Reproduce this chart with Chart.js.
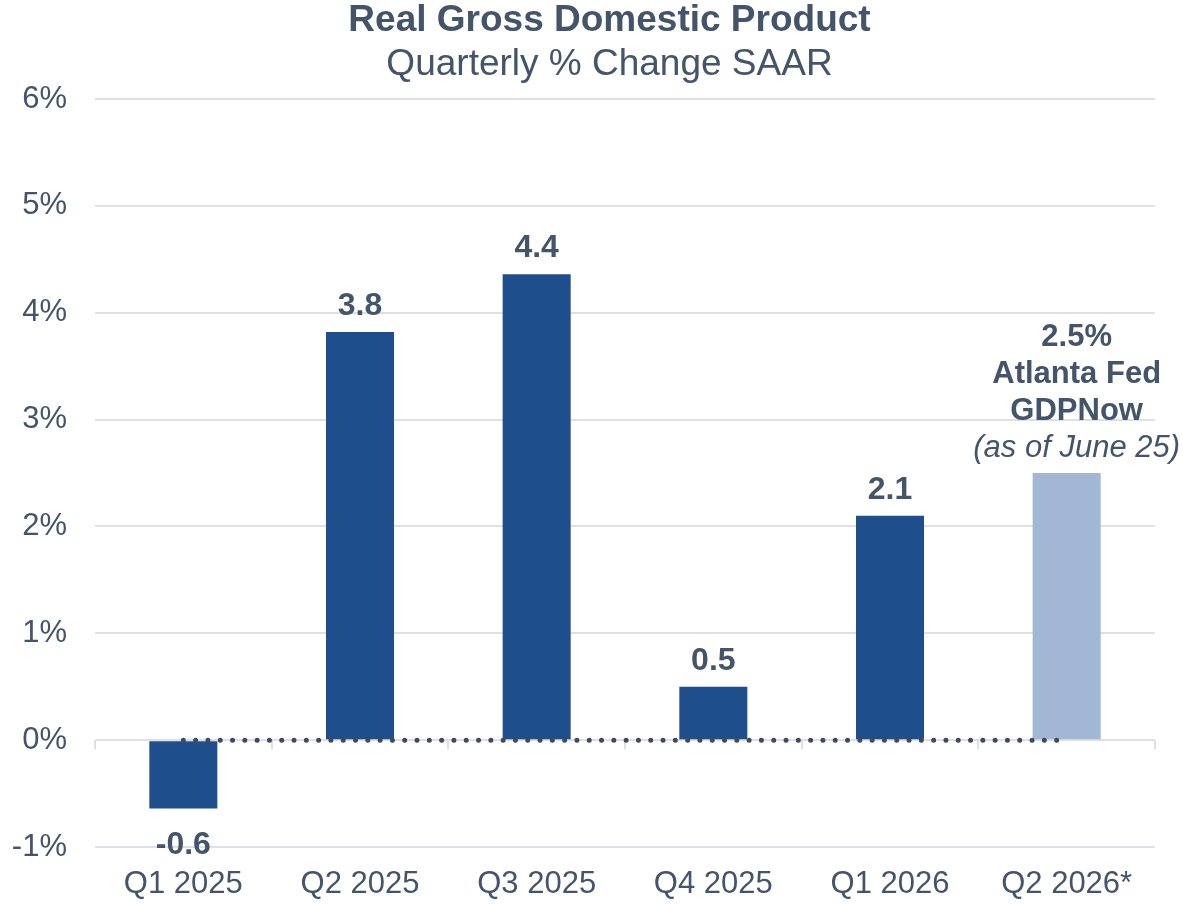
<!DOCTYPE html>
<html>
<head>
<meta charset="utf-8">
<script src="https://cdn.jsdelivr.net/npm/chart.js@4.4.1/dist/chart.umd.min.js"></script>
<style>
  html, body { margin: 0; padding: 0; background: #fff; }
  #wrap { width: 1183px; height: 904px; }
</style>
</head>
<body>
<div id="wrap"><canvas id="chart"></canvas></div>
<script>
// data
const quarters = ['Q1 2025', 'Q2 2025', 'Q3 2025', 'Q4 2025', 'Q1 2026', 'Q2 2026*'];
const gdpChange = [-0.64, 3.82, 4.36, 0.5, 2.1, 2.5];
const zeroLine = [0, 0, 0, 0, 0, 0];
const nowcastNote = ['2.5%', 'Atlanta Fed', 'GDPNow', '(as of June 25)'];
const yTicks = [-1, 0, 1, 2, 3, 4, 5, 6];

const textColor = '#44546A';
const gridColor = '#DDE1E7';
const barColors = ['#1F4E8C', '#1F4E8C', '#1F4E8C', '#1F4E8C', '#1F4E8C', '#A2B6D5'];
const font = 'Liberation Sans, Arial, sans-serif';

// titles sit a bit right of the canvas centre in the original
const titleShift = {
  id: 'titleShift',
  afterLayout(chart) {
    chart.boxes.forEach(b => {
      if (b.position === 'top' && b.options && 'text' in b.options) b.left += 54;
    });
  }
};

// small tick marks hanging below the 0% line, between categories
const zeroAxis = {
  id: 'zeroAxis',
  beforeDatasetsDraw(chart) {
    const { ctx, scales: { x, y } } = chart;
    const y0 = y.getPixelForValue(0);
    const step = x.getPixelForValue(1) - x.getPixelForValue(0);
    ctx.save();
    ctx.strokeStyle = gridColor;
    ctx.lineWidth = 2;
    ctx.beginPath();
    for (let i = 0; i <= quarters.length; i++) {
      const px = Math.round(x.getPixelForValue(i) - step / 2);
      ctx.moveTo(px, y0);
      ctx.lineTo(px, y0 + 9);
    }
    ctx.stroke();
    ctx.restore();
  }
};

const barLabels = {
  id: 'barLabels',
  afterDatasetsDraw(chart) {
    const ctx = chart.ctx;
    const meta = chart.getDatasetMeta(1);
    ctx.save();
    ctx.fillStyle = textColor;
    ctx.textAlign = 'center';
    ctx.textBaseline = 'alphabetic';
    meta.data.forEach((bar, i) => {
      const v = gdpChange[i];
      if (i === gdpChange.length - 1) {
        // nowcast bar gets the multi-line note
        const lh = 37;
        const n = nowcastNote.length;
        nowcastNote.forEach((line, j) => {
          const italic = j === n - 1;
          ctx.font = (italic ? 'italic ' : 'bold ') + '31px ' + font;
          ctx.fillText(line, bar.x + 10, bar.y - 16 - (n - 1 - j) * lh);
        });
        return;
      }
      ctx.font = 'bold 32px ' + font;
      const txt = v.toFixed(1);
      if (v >= 0) ctx.fillText(txt, bar.x, bar.y - 17);
      else ctx.fillText(txt, bar.x, bar.y + 45);
    });
    ctx.restore();
  }
};

new Chart(document.getElementById('chart'), {
  data: {
    labels: quarters,
    datasets: [
      {
        type: 'line',
        data: zeroLine,
        borderColor: '#3F4B5C',
        borderWidth: 5,
        borderDash: [0, 12.3],
        borderCapStyle: 'round',
        pointRadius: 0,
        fill: false,
        order: 0
      },
      {
        type: 'bar',
        data: gdpChange,
        backgroundColor: barColors,
        categoryPercentage: 1,
        barPercentage: 0.385,
        order: 1
      }
    ]
  },
  options: {
    responsive: true,
    maintainAspectRatio: false,
    animation: false,
    layout: { padding: { left: 10, right: 28, top: 0, bottom: 2 } },
    plugins: {
      legend: { display: false },
      tooltip: { enabled: false },
      title: {
        display: true,
        text: 'Real Gross Domestic Product',
        color: textColor,
        font: { family: font, size: 37, weight: 'bold', lineHeight: 1.1 },
        padding: { top: 0, bottom: 0 }
      },
      subtitle: {
        display: true,
        text: 'Quarterly % Change SAAR',
        color: textColor,
        font: { family: font, size: 37, lineHeight: 1.2 },
        padding: { top: 2, bottom: 12 }
      }
    },
    scales: {
      x: {
        offset: true,
        afterFit: (axis) => { axis.height = 55; },
        grid: { display: false, drawTicks: false },
        border: { display: false },
        ticks: { color: textColor, font: { family: font, size: 31 }, padding: 19 }
      },
      y: {
        min: yTicks[0],
        max: yTicks[yTicks.length - 1],
        afterBuildTicks: (axis) => { axis.ticks = yTicks.map(v => ({ value: v })); },
        afterFit: (axis) => { axis.width = 85; },
        grid: { color: gridColor, lineWidth: 2, drawTicks: false },
        border: { display: false },
        ticks: {
          color: textColor,
          font: { family: font, size: 31 },
          padding: 28,
          callback: (v) => v + '%'
        }
      }
    }
  },
  plugins: [titleShift, zeroAxis, barLabels]
});
</script>
</body>
</html>
